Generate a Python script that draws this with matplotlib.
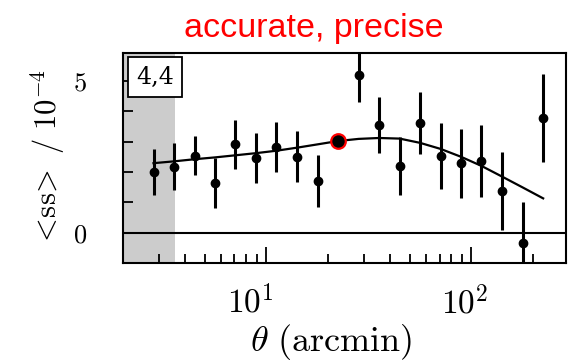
import numpy as np
import matplotlib
matplotlib.use("Agg")
import matplotlib.pyplot as plt
from matplotlib.ticker import LogLocator, NullFormatter
from matplotlib.transforms import ScaledTranslation

plt.rcParams['mathtext.fontset'] = 'cm'
plt.rcParams['font.family'] = 'DejaVu Serif'

# data (theta in arcmin, signal in units of 1e-4)
theta = [2.82, 3.55, 4.47, 5.62, 7.08, 8.91, 11.2, 14.1, 17.8, 22.4,
         28.2, 35.5, 44.7, 56.2, 70.8, 89.1, 112, 141, 178, 224]
ss = [2.00, 2.18, 2.54, 1.64, 2.91, 2.46, 2.82, 2.50, 1.69, 3.02,
      5.21, 3.54, 2.19, 3.60, 2.52, 2.28, 2.36, 1.38, -0.33, 3.78]
ss_err = [0.77, 0.77, 0.64, 0.82, 0.81, 0.81, 0.82, 0.84, 0.86, 0.0,
          0.90, 0.93, 0.96, 1.02, 1.08, 1.13, 1.20, 1.28, 1.35, 1.46]
model = [2.29, 2.35, 2.42, 2.48, 2.55, 2.62, 2.70, 2.80, 2.91, 3.02,
         3.09, 3.12, 3.10, 2.96, 2.76, 2.50, 2.20, 1.85, 1.49, 1.13]
red_idx = 9
cut = 3.6
panel = "4,4"

fig = plt.figure(figsize=(5.69, 3.62), dpi=100)
ax = fig.add_axes([0.216, 0.2735, 0.779, 0.58])

ax.axvspan(2, cut, color='#cccccc', lw=0, zorder=0)
ax.axhline(0, color='black', lw=1.5, zorder=1)
ax.plot(theta, model, color='black', lw=1.6, zorder=2)
ax.errorbar(theta, ss, yerr=ss_err, fmt='o', color='black', ms=6,
            elinewidth=2.2, capsize=0, zorder=3)
ax.plot(theta[red_idx], ss[red_idx], 'o', color='black', ms=10.5,
        mec='red', mew=1.6, zorder=4)

ax.set_xscale('log')
ax.set_xlim(2, 290)
ax.set_ylim(-1, 5.92)
ax.set_yticks([0, 1, 2, 3, 4, 5])
ax.set_yticklabels(['$0$', '', '', '', '', '$5$'])
ax.set_xticks([10, 100])
ax.set_xticklabels(['$10^1$', '$10^2$'])
ax.xaxis.set_minor_locator(LogLocator(base=10, subs=np.arange(2, 10), numticks=20))
ax.xaxis.set_minor_formatter(NullFormatter())

for s in ax.spines.values():
    s.set_linewidth(1.5)
ax.tick_params(axis='y', direction='in', length=7, width=1.3, pad=26, labelsize=19)
ax.tick_params(axis='x', which='major', direction='in', length=11.5, width=1.3,
               pad=16, labelsize=24)
ax.tick_params(axis='x', which='minor', direction='in', length=6.5, width=1.3)

# the tick labels sit a little left of their ticks in the original
for lab, dx in zip(ax.get_xticklabels(), [-16, -7]):
    lab.set_transform(lab.get_transform() + ScaledTranslation(dx / 100, 0, fig.dpi_scale_trans))

ax.text(0.03, 0.94, panel, transform=ax.transAxes, fontsize=17, va='top', ha='left',
        family='DejaVu Serif',
        bbox=dict(boxstyle='square,pad=0.35', fc='white', ec='black', lw=1.3), zorder=5)

ax.set_xlabel(r'$\theta\ \mathrm{(arcmin)}$', fontsize=26)
ax.xaxis.set_label_coords(0.47, -0.375)
ax.xaxis.label.set_va('center')
ax.set_ylabel(r'$<\!\mathrm{ss}\!>\ /\ 10^{-4}$', fontsize=22, labelpad=4)

fig.text(314 / 569, 0.898, 'accurate, precise', color='red', fontsize=24.5,
         family='Liberation Sans', ha='center', va='baseline')

fig.savefig('out.png', dpi=100)
